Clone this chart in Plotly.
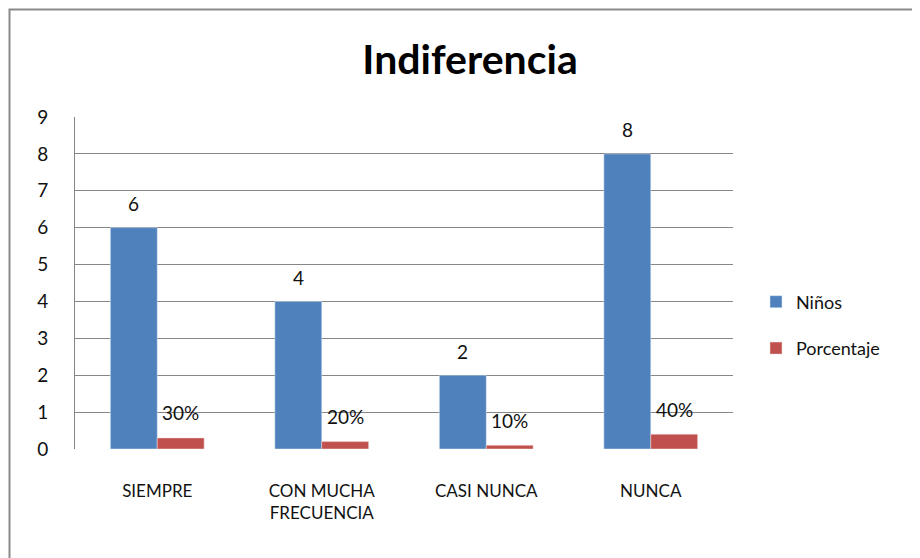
import plotly.graph_objects as go

categories = ["SIEMPRE", "CON MUCHA<br>FRECUENCIA", "CASI NUNCA", "NUNCA"]
ninos = [6, 4, 2, 8]
porcentaje = [0.3, 0.2, 0.1, 0.4]
porcentaje_labels = ["30%", "20%", "10%", "40%"]
yticks = list(range(0, 10))

FONT = "Lato, Liberation Sans, sans-serif"
BLUE = "#4F81BD"
RED = "#C0504D"
OFF = 8  # page body margin

fig = go.Figure()
fig.add_trace(go.Bar(x=categories, y=ninos, name="Niños", marker=dict(color=BLUE, line=dict(color="#dce6f2", width=0.5)),
                     legendgroup="a"))
fig.add_trace(go.Bar(x=categories, y=porcentaje, name="Porcentaje", marker=dict(color=RED, line=dict(color="#f2dcdb", width=0.5)),
                     legendgroup="b"))

for c, v in zip(categories, ninos):
    fig.add_annotation(x=c, y=v, text=str(v), xref="x", yref="y", showarrow=False,
                       xshift=-23.5, yshift=24, yanchor="middle",
                       font=dict(family=FONT, size=19, color="#111"))
for c, v, t in zip(categories, porcentaje, porcentaje_labels):
    fig.add_annotation(x=c, y=v, text=t, xref="x", yref="y", showarrow=False,
                       xshift=23.5, yshift=25, yanchor="middle",
                       font=dict(family=FONT, size=19, color="#111"))

# plot area in page pixels: left 75, right 733, top 117, bottom 449
L, R, T, B = 75, 733, 117, 449
PW, PH = R - L, B - T

# outer chart frame
fig.add_shape(type="rect", xref="paper", yref="paper",
              x0=(9.5 - L) / PW, x1=(940 - L) / PW,
              y0=(B - 590) / PH, y1=(B - 9.5) / PH,
              line=dict(color="#8a8a8a", width=2), fillcolor="rgba(0,0,0,0)", layer="below")

fig.update_layout(
    width=920, height=558,
    margin=dict(l=L - OFF, r=920 - (R - OFF), t=T - OFF, b=558 - (B - OFF)),
    paper_bgcolor="white", plot_bgcolor="white",
    barmode="group", bargap=0.43, bargroupgap=0,
    title=dict(text="<b>Indiferencia</b>", x=(470 - OFF) / 920, xanchor="center", xref="container",
               y=1 - (60 - OFF) / 558, yanchor="middle", yref="container",
               font=dict(family=FONT, size=41, color="#000")),
    font=dict(family=FONT, size=18, color="#111"),
    legend=dict(x=(756 - L) / PW, y=(B - 325) / PH, xanchor="left", yanchor="middle",
                font=dict(family=FONT, size=18, color="#111"), tracegroupgap=20,
                itemwidth=30, bgcolor="rgba(0,0,0,0)"),
    showlegend=True,
)
fig.update_yaxes(range=[0, 9], tickvals=yticks, ticktext=[str(t) for t in yticks],
                 showgrid=True, gridcolor="#868686", gridwidth=1,
                 zeroline=True, zerolinecolor="white", zerolinewidth=1,
                 showline=True, linecolor="#868686", linewidth=1,
                 ticks="", ticklabelstandoff=22,
                 tickfont=dict(family=FONT, size=19, color="#111"))
fig.update_xaxes(showgrid=False, showline=False, zeroline=False, ticks="",
                 ticklabelstandoff=30,
                 tickfont=dict(family=FONT, size=17, color="#111"))

fig.write_html("out.html")
